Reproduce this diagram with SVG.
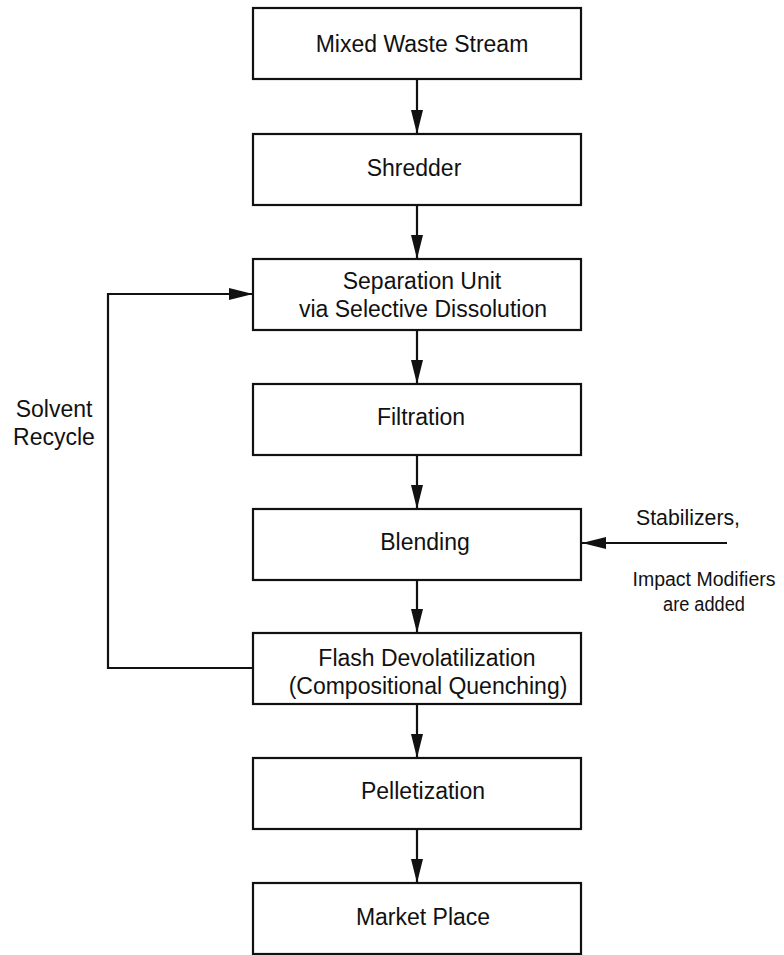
<svg xmlns="http://www.w3.org/2000/svg" width="784" height="955" viewBox="0 0 784 955">
<defs>
<style>
.box{fill:#fff;stroke:#111;stroke-width:2.2}
.t{font-family:"Liberation Sans",Arial,sans-serif;font-size:23px;fill:#111;text-anchor:middle}
.s{font-family:"Liberation Sans",Arial,sans-serif;font-size:22px;fill:#111;text-anchor:middle}
.n{font-family:"Liberation Sans",Arial,sans-serif;font-size:19.5px;fill:#111;text-anchor:middle}
.c{fill:none;stroke:#111;stroke-width:2.2}
</style>
<marker id="ah" viewBox="0 0 24 12" refX="24" refY="6" markerWidth="24" markerHeight="12" markerUnits="userSpaceOnUse" orient="auto">
<path d="M0,0 L24,6 L0,12 Z" fill="#111"/>
</marker>
</defs>
<rect width="784" height="955" fill="#fff"/>
<g id="connectors">
<line class="c" x1="417" y1="79" x2="417" y2="134" marker-end="url(#ah)"/>
<line class="c" x1="417" y1="205" x2="417" y2="259" marker-end="url(#ah)"/>
<line class="c" x1="417" y1="330" x2="417" y2="384" marker-end="url(#ah)"/>
<line class="c" x1="417" y1="455" x2="417" y2="509" marker-end="url(#ah)"/>
<line class="c" x1="417" y1="580" x2="417" y2="633" marker-end="url(#ah)"/>
<line class="c" x1="417" y1="704" x2="417" y2="758" marker-end="url(#ah)"/>
<line class="c" x1="417" y1="829" x2="417" y2="883" marker-end="url(#ah)"/>
<polyline class="c" points="253,668 108,668 108,294 253,294" marker-end="url(#ah)"/>
<line class="c" x1="727" y1="543" x2="582" y2="543" marker-end="url(#ah)"/>
</g>
<g id="n1"><rect class="box" x="253" y="8" width="328" height="71"/><text class="t" x="422" y="52">Mixed Waste Stream</text></g>
<g id="n2"><rect class="box" x="253" y="134" width="328" height="71"/><text class="t" x="414" y="176">Shredder</text></g>
<g id="n3"><rect class="box" x="253" y="259" width="328" height="71"/><text class="t" x="422" y="289">Separation Unit</text><text class="t" x="423" y="317">via Selective Dissolution</text></g>
<g id="n4"><rect class="box" x="253" y="384" width="328" height="71"/><text class="t" x="421" y="425">Filtration</text></g>
<g id="n5"><rect class="box" x="253" y="509" width="328" height="71"/><text class="t" x="425" y="550">Blending</text></g>
<g id="n6"><rect class="box" x="253" y="633" width="328" height="71"/><text class="t" x="427" y="666">Flash Devolatilization</text><text class="t" x="428" y="694">(Compositional Quenching)</text></g>
<g id="n7"><rect class="box" x="253" y="758" width="328" height="71"/><text class="t" x="423" y="799">Pelletization</text></g>
<g id="n8"><rect class="box" x="253" y="883" width="328" height="71"/><text class="t" x="423" y="925">Market Place</text></g>
<g id="solvent"><text class="t" x="54" y="417">Solvent</text><text class="t" x="54" y="445">Recycle</text></g>
<g id="additives"><text class="s" x="688" y="525" textLength="104" lengthAdjust="spacingAndGlyphs">Stabilizers,</text><text class="n" x="704" y="586">Impact Modifiers</text><text class="n" x="704" y="611" textLength="82" lengthAdjust="spacingAndGlyphs">are added</text></g>
</svg>
